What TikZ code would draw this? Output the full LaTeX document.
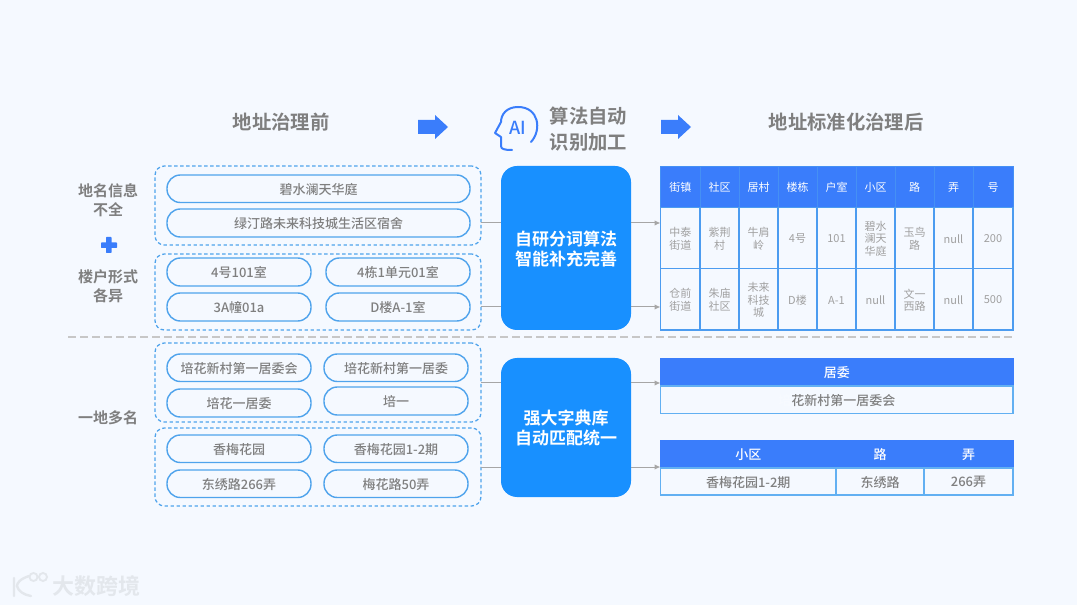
\documentclass[tikz,border=0pt]{standalone}
\usepackage{fontspec}
\setmainfont{Noto Sans CJK SC}[BoldFont={Noto Sans CJK SC Bold}]
\newfontfamily\medfont{Noto Sans CJK SC Medium}
\usetikzlibrary{arrows.meta}
\definecolor{bgc}{HTML}{F5F9FF}
\definecolor{txtg}{HTML}{7F7F7F}
\definecolor{cellg}{HTML}{A0A0A0}
\definecolor{pillb}{HTML}{4FA3EC}
\definecolor{hdrb}{HTML}{3A7DFB}
\definecolor{gridb}{HTML}{4C9CF0}
\definecolor{lowb}{HTML}{62B0F2}
\definecolor{mainb}{HTML}{1890FF}
\definecolor{linkg}{HTML}{A6A6A6}
\definecolor{wmk}{HTML}{E3E7EC}
\newcommand{\fs}[2]{\fontsize{#1}{#2}\selectfont}
\newcommand{\pxnode}[7][]{%
  \node[#1,minimum width={(#5-#3)*0.75pt},minimum height={(#6-#4)*0.75pt}] (#2) at ({(#3+#5)/2},{(#4+#6)/2}) {};
  \node[#1,draw=none,fill=none,yshift=-0.6pt] (#2-t) at (#2.center) {#7};}
\tikzset{
  x=0.75pt,y=-0.75pt,
  base/.style={inner sep=0pt,outer sep=0pt,align=center},
  groupbox/.style={base,draw=pillb,line width=0.95pt,dash pattern=on 2.6pt off 1.9pt,rounded corners=7pt},
  pill/.style={base,draw=pillb,line width=1.05pt,rounded corners=10pt,text=txtg,font=\medfont\fs{9.75}{12}},
  mainbox/.style={base,fill=mainb,rounded corners=12pt,text=white,font=\bfseries\fs{12.75}{15}},
  hdr/.style={base,fill=hdrb,draw=gridb!60!hdrb,line width=0.6pt,text=white,font=\fs{8.25}{10}},
  hdrbig/.style={base,fill=hdrb,draw=hdrb,line width=0.7pt,text=white,font=\medfont\fs{9.75}{12}},
  cell/.style={base,draw=gridb,line width=0.8pt,text=cellg,font=\fs{8.25}{9.4}},
  cellbig/.style={base,draw=lowb,line width=0.8pt,text=txtg,font=\medfont\fs{9.75}{12}},
  title/.style={base,text=txtg,font=\bfseries\fs{14.5}{19}},
  side/.style={base,text=txtg,font=\bfseries\fs{11.25}{14.25}},
  link/.style={draw=linkg,line width=0.75pt},
  linkarrow/.style={link,-{Latex[length=4.5pt,width=4pt]}},
}
\begin{document}
\begin{tikzpicture}
\fill[bgc] (0,0) rectangle (1077,605);
\useasboundingbox (0,0) rectangle (1077,605);

% titles
\node[title] (t1) at (281,122) {地址治理前};
\node[title] (t2) at (588.5,129) {算法自动\\识别加工};
\node[title] (t3) at (846,122) {地址标准化治理后};

% big arrows
\fill[hdrb] (418,120) -- (435,120) -- (435,115) -- (448,127) -- (435,139) -- (435,134) -- (418,134) -- cycle;
\fill[hdrb] (661,120) -- (678,120) -- (678,115) -- (691,127) -- (678,139) -- (678,134) -- (661,134) -- cycle;

% AI head icon
\draw[hdrb,line width=1.5pt,line cap=round,line join=round]
  (531,142) .. controls (542,130) and (539,107) .. (518,107)
  .. controls (506,107) and (501,115) .. (501,122)
  -- (495,133) -- (501,137) -- (501,146)
  .. controls (501,149) and (504,150) .. (512,150);
\node[base,text=hdrb,font=\medfont\fs{13.5}{14}] (ai) at (518,127.5) {AI};

% side labels
\node[side] (s1) at (108,200) {地名信息\\不全};
\node[side] (s2) at (108,286) {楼户形式\\各异};
\node[side] (s3) at (108,417.5) {一地多名};
\fill[hdrb,rounded corners=0.5pt] (106,237) rectangle (111.5,253);
\fill[hdrb,rounded corners=0.5pt] (101,242.5) rectangle (117,248);

% dashed groups
\pxnode[groupbox]{g1}{155}{166}{481}{245}{}
\pxnode[groupbox]{g2}{155}{254}{481}{330}{}
\pxnode[groupbox]{g3}{155}{343}{481}{422}{}
\pxnode[groupbox]{g4}{155}{428}{481}{506}{}

% pills
\pxnode[pill]{p1}{167}{175}{470}{202.5}{碧水澜天华庭}
\pxnode[pill]{p2}{167}{209}{470}{237}{绿汀路未来科技城生活区宿舍}
\pxnode[pill]{p3}{167}{258}{311}{286}{4号101室}
\pxnode[pill]{p4}{326}{258}{470}{286}{4栋1单元01室}
\pxnode[pill]{p5}{167}{293}{311}{321}{3A幢01a}
\pxnode[pill]{p6}{326}{293}{470}{321}{D楼A-1室}
\pxnode[pill]{p7}{167}{354}{311}{381.5}{培花新村第一居委会}
\pxnode[pill]{p8}{324}{354}{468}{381.5}{培花新村第一居委}
\pxnode[pill]{p9}{167}{389}{311}{417}{培花一居委}
\pxnode[pill]{p10}{324}{387}{468}{415}{培一}
\pxnode[pill]{p11}{167}{435}{311}{462.5}{香梅花园}
\pxnode[pill]{p12}{324}{435}{468}{462.5}{香梅花园1-2期}
\pxnode[pill]{p13}{167}{470}{311}{497.5}{东绣路266弄}
\pxnode[pill]{p14}{324}{470}{468}{497.5}{梅花路50弄}

% main boxes
\pxnode[mainbox]{b1}{501}{166}{631}{330}{自研分词算法\\智能补充完善}
\pxnode[mainbox]{b2}{501}{358}{631}{497}{强大字典库\\自动匹配统一}

% table 1 header
\pxnode[hdr]{h1}{660.5}{166}{700}{207.5}{街镇}
\pxnode[hdr]{h2}{700}{166}{739}{207.5}{社区}
\pxnode[hdr]{h3}{739}{166}{778}{207.5}{居村}
\pxnode[hdr]{h4}{778}{166}{817}{207.5}{楼栋}
\pxnode[hdr]{h5}{817}{166}{856}{207.5}{户室}
\pxnode[hdr]{h6}{856}{166}{895}{207.5}{小区}
\pxnode[hdr]{h7}{895}{166}{934}{207.5}{路}
\pxnode[hdr]{h8}{934}{166}{973}{207.5}{弄}
\pxnode[hdr]{h9}{973}{166}{1013}{207.5}{号}
% row 1
\pxnode[cell]{c11}{660.5}{207.5}{700}{268.5}{中泰\\街道}
\pxnode[cell]{c12}{700}{207.5}{739}{268.5}{紫荆\\村}
\pxnode[cell]{c13}{739}{207.5}{778}{268.5}{牛肩\\岭}
\pxnode[cell]{c14}{778}{207.5}{817}{268.5}{4号}
\pxnode[cell]{c15}{817}{207.5}{856}{268.5}{101}
\pxnode[cell]{c16}{856}{207.5}{895}{268.5}{碧水\\澜天\\华庭}
\pxnode[cell]{c17}{895}{207.5}{934}{268.5}{玉鸟\\路}
\pxnode[cell]{c18}{934}{207.5}{973}{268.5}{null}
\pxnode[cell]{c19}{973}{207.5}{1013}{268.5}{200}
% row 2
\pxnode[cell]{c21}{660.5}{268.5}{700}{330}{仓前\\街道}
\pxnode[cell]{c22}{700}{268.5}{739}{330}{朱庙\\社区}
\pxnode[cell]{c23}{739}{268.5}{778}{330}{未来\\科技\\城}
\pxnode[cell]{c24}{778}{268.5}{817}{330}{D楼}
\pxnode[cell]{c25}{817}{268.5}{856}{330}{A-1}
\pxnode[cell]{c26}{856}{268.5}{895}{330}{null}
\pxnode[cell]{c27}{895}{268.5}{934}{330}{文一\\西路}
\pxnode[cell]{c28}{934}{268.5}{973}{330}{null}
\pxnode[cell]{c29}{973}{268.5}{1013}{330}{500}

% table 2
\pxnode[hdrbig]{j1}{660.5}{358}{1013}{386}{居委}
\pxnode[cellbig]{j2}{660.5}{386}{1013}{413.5}{\textcolor{bgc!70!white}{培}花新村第一居委会}

% table 3
\pxnode[hdrbig]{k1}{660.5}{440}{836}{468}{小区}
\pxnode[hdrbig]{k2}{836}{440}{924}{468}{路}
\pxnode[hdrbig]{k3}{924}{440}{1013}{468}{弄}
\pxnode[cellbig]{k4}{660.5}{468}{836}{495}{香梅花园1-2期}
\pxnode[cellbig]{k5}{836}{468}{924}{495}{东绣路}
\pxnode[cellbig]{k6}{924}{468}{1013}{495}{266弄}

% divider
\coordinate (d1) at (68,337);
\coordinate (d2) at (1015,337);
\draw[draw=black!22,line width=1.5pt,dash pattern=on 6pt off 3pt] (d1) -- (d2);

% connector anchors
\coordinate (y1) at (0,223);
\coordinate (y2) at (0,307);
\coordinate (y3) at (0,383);
\coordinate (y4) at (0,467);
\draw[link] (g1.east |- y1) -- (b1.west |- y1);
\draw[link] (g2.east |- y2) -- (b1.west |- y2);
\draw[link] (g3.east |- y3) -- (b2.west |- y3);
\draw[link] (g4.east |- y4) -- (b2.west |- y4);
\draw[linkarrow] (b1.east |- y1) -- (h1.west |- y1);
\draw[linkarrow] (b1.east |- y2) -- (h1.west |- y2);
\draw[linkarrow] (b2.east |- y3) -- (j1.west |- y3);
\draw[linkarrow] (b2.east |- y4) -- (k1.west |- y4);

% watermark
\node[base,text=wmk,font=\bfseries\fs{16.5}{20}] (wm) at (96,586) {大数跨境};
\draw[wmk,line width=1.8pt,line cap=round]
  (14,578) -- (14,596)
  (29,576) .. controls (20,579) and (17,583) .. (17,586) .. controls (18,591) and (24,595) .. (31,596);
\draw[wmk,line width=1.4pt] (33.5,577) circle[radius=4] (43,577) circle[radius=4];
\end{tikzpicture}
\end{document}
